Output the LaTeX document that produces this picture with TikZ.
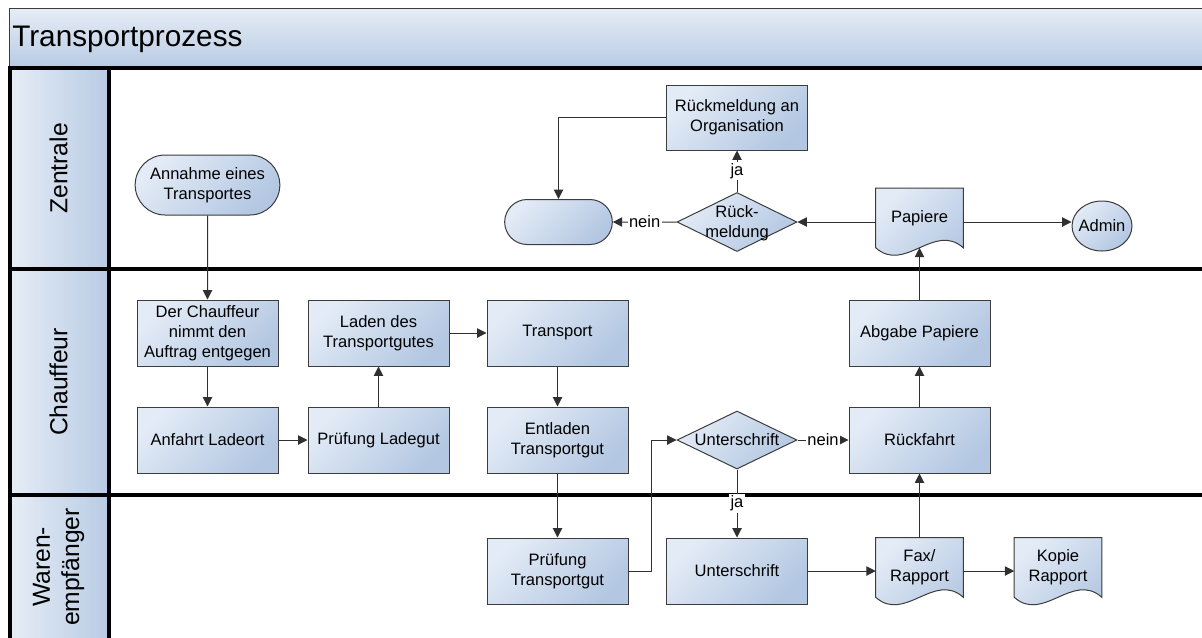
\documentclass[tikz,border=0pt]{standalone}
\usepackage{fontspec}
\setmainfont{Liberation Sans}
\usetikzlibrary{shapes.geometric,shapes.misc,arrows.meta,calc}

% one unit of the drawing grid
\newdimen\px \px=0.75pt

\definecolor{boxlight}{HTML}{E3EBF6}
\definecolor{boxdark}{HTML}{B3C7E2}
\definecolor{lanelight}{HTML}{E6EDF6}
\definecolor{lanedark}{HTML}{B8CBE4}
\definecolor{edgeline}{HTML}{303030}
\definecolor{framecol}{HTML}{3C3C3C}

\pgfdeclarelayer{lanes}
\pgfdeclarelayer{docs}
\pgfsetlayers{lanes,docs,main}

% text that does not widen its shape (diamonds, circle)
\newcommand\flattext[1]{\smash{\makebox[0pt]{\raisebox{-0.36em}{\begin{tabular}{@{}c@{}}#1\end{tabular}}}}}

% document symbol: rectangle with a wavy lower edge
\newcommand\docshape[1]{%
  \shade[docfill] (#1.north west) -- (#1.north east) -- (#1.south east)
    .. controls ($(#1.south east)+(-29,-26)$) and ($(#1.south west)+(29,26)$) .. (#1.south west) -- cycle;}

\tikzset{
  nodefont/.style={font=\fontsize{12.4}{15}\selectfont},
  fillgrad/.style={top color=boxlight, bottom color=boxdark, shading angle=45},
  box/.style={rectangle, draw=framecol, line width=0.75pt, fillgrad, nodefont,
    align=center, inner sep=2pt, minimum width=141*\px, minimum height=66*\px},
  terminal/.style={rounded rectangle, draw=framecol, line width=0.75pt, fillgrad,
    nodefont, align=center, inner sep=2pt},
  decision/.style={diamond, draw=framecol, line width=0.75pt, fillgrad, nodefont,
    inner sep=0pt, minimum width=120*\px, minimum height=58*\px},
  doc/.style={rectangle, nodefont, align=center, inner sep=2pt,
    minimum width=87*\px, minimum height=59*\px},
  docfill/.style={draw=framecol, line width=0.75pt, fillgrad},
  conn/.style={draw=edgeline, line width=0.75pt, -{Triangle[length=7pt,width=7pt]}},
  lbl/.style={fill=white, inner sep=1pt, nodefont},
  lanetext/.style={rotate=90, font=\fontsize{18.5}{22}\selectfont, align=center, inner sep=0pt},
  laneline/.style={line width=3.2pt, black},
}

\begin{document}
\begin{tikzpicture}[x=0.75pt, y=-0.75pt]
\useasboundingbox (0,0) rectangle (1202,637);

% ---------- pool header and swim lanes ----------
\begin{pgfonlayer}{lanes}
  \shade[top color=lanelight, bottom color=lanedark, draw=framecol, line width=0.6pt]
    (9,8) rectangle (1212,67);
  \node[anchor=base west, font=\fontsize{22.3}{26}\selectfont, inner sep=0pt]
    (pooltitle) at (12,46.5) {Transportprozess};

  \shade[left color=lanelight, right color=lanedark] (10,68) rectangle (109,269);
  \shade[left color=lanelight, right color=lanedark] (10,269) rectangle (109,495);
  \shade[left color=lanelight, right color=lanedark] (10,495) rectangle (109,640);

  \draw[laneline] (8.4,68) -- (1212,68);
  \draw[laneline] (8.4,269) -- (1212,269);
  \draw[laneline] (8.4,495) -- (1212,495);
  \draw[laneline] (10,66.4) -- (10,640);
  \draw[laneline] (109,66.4) -- (109,640);

  \node[lanetext] (laneZ) at (58.5,168.5) {Zentrale};
  \node[lanetext] (laneC) at (58.5,382) {Chauffeur};
  \node[lanetext] (laneW) at (58.5,567) {Waren-\\empfänger};
\end{pgfonlayer}

% ---------- flow elements ----------
\node[terminal, minimum width=150*\px, minimum height=60*\px] (annahme) at (207.5,185) {Annahme eines\\Transportes};
\node[box] (auftrag) at (207.5,333) {Der Chauffeur\\nimmt den\\Auftrag entgegen};
\node[box] (anfahrt) at (207.5,440) {Anfahrt Ladeort};
\node[box] (pruefladegut) at (378.5,440) {Prüfung Ladegut};
\node[box] (laden) at (378.5,333) {Laden des\\Transportgutes};
\node[box] (transport) at (557.5,333) {Transport};
\node[box] (entladen) at (557.5,440) {Entladen\\Transportgut};
\node[box] (prueftg) at (557.5,571) {Prüfung\\Transportgut};
\node[decision] (dsign) at (737,440) {\flattext{Unterschrift}};
\node[box] (sign) at (737,571) {Unterschrift};
\node[box] (rueckfahrt) at (919.5,440) {Rückfahrt};
\node[box] (abgabe) at (919.5,333) {Abgabe Papiere};
\node[doc] (fax) at (919.5,567.5) {Fax/\\Rapport};
\node[doc] (kopie) at (1058,567.5) {Kopie\\Rapport};
\node[doc] (papiere) at (919.5,218) {Papiere};
\node[ellipse, draw=framecol, line width=0.75pt, fillgrad, nodefont, inner sep=0pt,
  minimum width=60*\px, minimum height=50*\px] (admin) at (1102,226) {\flattext{Admin}};
\node[decision, minimum height=59*\px] (dmeld) at (737,222) {\flattext{Rück-\\meldung}};
\node[box, minimum height=65*\px] (rorg) at (737,117.5) {Rückmeldung an\\Organisation};
\node[terminal, minimum width=113*\px, minimum height=45*\px] (ende) at (558.5,222) {};

\begin{pgfonlayer}{docs}
  \docshape{fax}
  \docshape{kopie}
  \docshape{papiere}
\end{pgfonlayer}

% ---------- connectors ----------
\draw[conn] (annahme) -- (auftrag);
\draw[conn] (auftrag) -- (anfahrt);
\draw[conn] (anfahrt) -- (pruefladegut);
\draw[conn] (pruefladegut) -- (laden);
\draw[conn] (laden) -- (transport);
\draw[conn] (transport) -- (entladen);
\draw[conn] (entladen) -- (prueftg);
\draw[conn] (prueftg.east) -- ++(23,0) |- (dsign.west);
\draw[conn] (dsign) -- node[lbl] {ja} (sign);
\draw[conn] (dsign) -- node[lbl] {nein} (rueckfahrt);
\draw[conn] (sign) -- (sign -| fax.west);
\draw[conn] (fax.east |- sign) -- (kopie.west |- sign);
\draw[conn] (fax) -- (rueckfahrt);
\draw[conn] (rueckfahrt) -- (abgabe);
\draw[conn] (abgabe) -- (papiere);
\draw[conn] (papiere.east |- dmeld) -- (admin.west |- dmeld);
\draw[conn] (papiere.west |- dmeld) -- (dmeld);
\draw[conn] (dmeld) -- node[lbl] {ja} (rorg);
\draw[conn] (dmeld) -- node[lbl] {nein} (ende);
\draw[conn] (rorg.west) -| (ende.north);
\end{tikzpicture}
\end{document}
